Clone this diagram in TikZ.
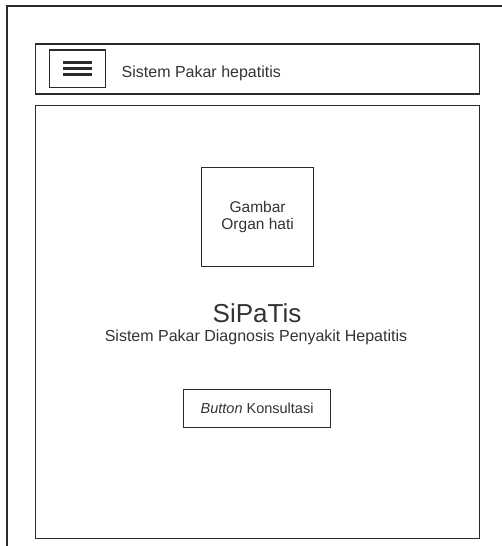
\documentclass[tikz,border=0pt]{standalone}
\usepackage{fontspec}
\setmainfont{Liberation Sans}
\definecolor{inkline}{HTML}{2B2B2B}
\definecolor{inktext}{HTML}{333333}
\begin{document}
\begin{tikzpicture}[x=1pt,y=-1pt,
  frame/.style={draw=inkline,line width=1.2pt,inner sep=0pt},
  label/.style={text=inktext,inner sep=0pt,font=\fontsize{16}{18}\selectfont},
  burger/.style={draw=inkline,line width=2.6pt}]
  \useasboundingbox (0,0) rectangle (502,546);
  % outer page border (continues past the right and bottom edges)
  \draw[inkline,line width=1.6pt] (7,546) -- (7,6) -- (502,6);
  % header bar
  \node[frame,anchor=north west,minimum width=444pt,minimum height=50pt] (header) at (35,43.3) {};
  \node[frame,anchor=north west,minimum width=55.5pt,minimum height=37.5pt] (menu) at (49,49.3) {};
  \draw[burger] ([xshift=-14.5pt,yshift=6pt]menu.center) -- ([xshift=14.5pt,yshift=6pt]menu.center);
  \draw[burger] ([xshift=-14.5pt]menu.center) -- ([xshift=14.5pt]menu.center);
  \draw[burger] ([xshift=-14.5pt,yshift=-6pt]menu.center) -- ([xshift=14.5pt,yshift=-6pt]menu.center);
  \node[label,anchor=base west] (title) at (121.5,77.5) {Sistem Pakar hepatitis};
  % content area
  \node[frame,anchor=north west,minimum width=444pt,minimum height=432.5pt] (content) at (35,105) {};
  \node[frame,anchor=north west,minimum width=112pt,minimum height=99.5pt,label,align=center,
        font=\fontsize{15.5}{17.5}\selectfont] (image) at (201,166.7) {Gambar\\Organ hati};
  \node[label,anchor=base,font=\fontsize{26}{30}\selectfont] (app) at (257,322.3) {SiPaTis};
  \node[label,anchor=base] (subtitle) at (256,341.7) {Sistem Pakar Diagnosis Penyakit Hepatitis};
  \node[frame,anchor=north west,minimum width=147pt,minimum height=38pt,label,
        font=\fontsize{14.5}{17}\selectfont] (button) at (183,389) {\textit{Button} Konsultasi};
\end{tikzpicture}
\end{document}
